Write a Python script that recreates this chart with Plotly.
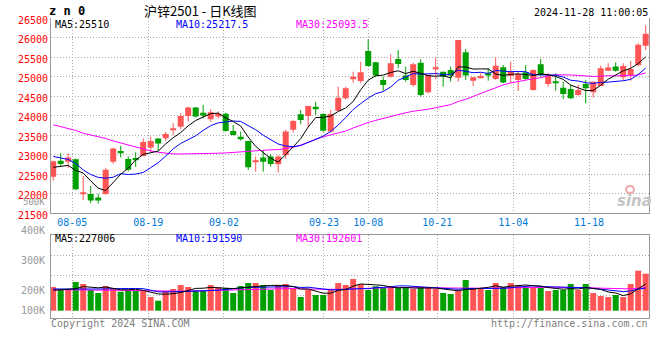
import plotly.graph_objects as go

# ---------------- data ----------------
dates = ["07-31", "08-01", "08-02",
         "08-05", "08-06", "08-07", "08-08", "08-09",
         "08-12", "08-13", "08-14", "08-15", "08-16",
         "08-19", "08-20", "08-21", "08-22", "08-23",
         "08-26", "08-27", "08-28", "08-29", "08-30",
         "09-02", "09-03", "09-04", "09-05", "09-06",
         "09-09", "09-10", "09-11", "09-12", "09-13",
         "09-18", "09-19", "09-20",
         "09-23", "09-24", "09-25", "09-26", "09-27", "09-30",
         "10-08", "10-09", "10-10", "10-11",
         "10-14", "10-15", "10-16", "10-17", "10-18",
         "10-21", "10-22", "10-23", "10-24", "10-25",
         "10-28", "10-29", "10-30", "10-31", "11-01",
         "11-04", "11-05", "11-06", "11-07", "11-08",
         "11-11", "11-12", "11-13", "11-14", "11-15",
         "11-18", "11-19", "11-20", "11-21", "11-22",
         "11-25", "11-26", "11-27", "11-28"]

opens = [22440, 22850, 22825, 22890, 22010, 22000, 21905, 22000, 22820, 23100,
         22895, 22920, 22970, 23185, 23420, 23425, 23640, 23720, 23995, 24210,
         24075, 23910, 23980, 24055, 23610, 23465, 23355, 22820, 22930, 22955,
         22760, 22995, 23640, 24040, 23995, 24235, 24045, 23595, 24130, 24450,
         24960, 24890, 25660, 25370, 24920, 25000, 25455, 25030, 24790, 25360,
         24605, 25200, 25130, 25175, 24975, 25625, 24900, 24975, 25090, 24945,
         25245, 25020, 24920, 25115, 24660, 25320, 24815, 24875, 24720, 24685,
         24535, 24815, 24605, 24765, 25155, 25260, 24985, 25030, 25300, 25795]
highs = [22850, 23040, 23040, 22905, 22460, 22205, 22000, 22665, 23180, 23230,
         22960, 23065, 23425, 23465, 23425, 23585, 23810, 24065, 24235, 24225,
         24280, 24165, 24105, 24080, 23765, 23595, 23360, 22955, 23125, 23015,
         22995, 23640, 23895, 24150, 24250, 24360, 24065, 24150, 24745, 24745,
         25130, 25385, 25960, 25380, 25000, 25575, 25685, 25260, 25360, 25445,
         25045, 25500, 25130, 25260, 25940, 25710, 24985, 25090, 25215, 25500,
         25300, 25385, 25130, 25300, 25190, 25455, 25090, 25090, 24875, 24790,
         24790, 24920, 24875, 25285, 25345, 25370, 25345, 25405, 25860, 26320]
lows = [22340, 22700, 22665, 22100, 21845, 21760, 21755, 21975, 22765, 22935,
        22575, 22690, 22960, 23080, 23100, 23355, 23510, 23655, 23850, 23955,
        23935, 23850, 23935, 23595, 23495, 23365, 22615, 22570, 22570, 22700,
        22545, 22900, 23570, 23785, 23720, 24020, 23595, 23570, 24105, 24425,
        24850, 24835, 25260, 25000, 24645, 24975, 25215, 24875, 24745, 24490,
        24575, 24935, 24745, 24875, 24875, 24920, 24765, 24960, 24900, 24920,
        24835, 24835, 24635, 24920, 24645, 25000, 24745, 24645, 24430, 24430,
        24515, 24320, 24465, 24765, 25155, 25130, 24920, 24900, 25260, 25685]
closes = [22835, 22765, 22930, 22120, 22025, 21830, 21830, 22615, 23165, 23065,
          22615, 22885, 23330, 23355, 23290, 23535, 23680, 23995, 24210, 23980,
          24005, 24090, 24055, 23610, 23510, 23425, 22685, 22850, 22825, 22765,
          22955, 23595, 23870, 23895, 24250, 24165, 23620, 24045, 24465, 24705,
          25000, 25115, 25275, 25030, 24790, 25345, 25325, 24920, 25320, 24535,
          25045, 25245, 25000, 25030, 25940, 25030, 24985, 25020, 25030, 25285,
          24850, 25130, 25070, 24945, 25175, 25045, 25030, 24850, 24560, 24450,
          24660, 24705, 24875, 25215, 25235, 25155, 25275, 25200, 25820, 26100]
volumes = [198500, 183500, 183500, 223500, 213500, 183500, 168500, 203500, 193500, 175000,
           183500, 178500, 178500, 148500, 130000, 178500, 188500, 208500, 198500, 183500,
           183500, 208500, 198500, 193500, 168500, 203500, 218500, 218500, 208500, 183500,
           208500, 213500, 188500, 148500, 183500, 158500, 158500, 188500, 218500, 208500,
           238500, 213500, 183500, 202000, 193500, 198500, 193500, 193500, 188500, 198500,
           198500, 188500, 168500, 163500, 178500, 233500, 193500, 193500, 183500, 218500,
           198500, 218500, 208500, 198500, 198500, 193500, 178500, 183500, 183500, 213500,
           183500, 213500, 168500, 153500, 148500, 158500, 148500, 213500, 280000, 265000]

# moving-average values at the left edge (they depend on days before the window)
ma5_head = [22680, 22705, 22730, 22600]
ma10_head = [22959, 22921, 22882, 22780, 22614, 22498, 22422, 22401, 22427]
ma30_head = [23771, 23727, 23676, 23625, 23553, 23510, 23458, 23420, 23356, 23305,
             23241, 23190, 23138, 23100, 23067, 23036, 23023, 23023, 23023, 23023,
             23028, 23036, 23041, 23049, 23062, 23074, 23100, 23113, 23131]
vma5_head = [182000, 184000, 186000, 190000]
vma10_head = [188500, 188000, 188000, 189000, 190000, 189500, 188500, 189000, 190000]
vma30_head = [185000, 185000, 184500, 184500, 184000, 184000, 183500, 183000, 182500, 182000,
              181500, 181000, 180000, 178500, 177500, 177000, 177000, 177500, 178500, 179500,
              180500, 182000, 183000, 184500, 185500, 186500, 187500, 188500, 189000]

ma_price_text = ["25510", "25217.5", "25093.5"]
ma_vol_text = ["227006", "191590", "192601"]
price_ticks = [21500, 22000, 22500, 23000, 23500, 24000, 24500, 25000, 25500, 26000, 26500]
vol_labels = ["500K", "400K", "300K", "200K", "100K"]
tick_labels = ["08-05", "08-19", "09-02", "09-23", "10-08", "10-21", "11-04", "11-18"]
title_text = "沪锌2501 - 日K线图"
code_text = "z n 0"
stamp_text = "2024-11-28 11:00:05"

# ---------------- styling / layout constants ----------------
RED = "#ff5555"
GREEN = "#00a000"
MONO = "DejaVu Sans Mono"
W, H = 660, 360
L, R, T, B = 51, 11, 18, 42
PW, PH = W - L - R, H - T - B
VOL_FLOOR = 80000           # volume bars are drawn up from this level
grid_at = [2.55, 12.68, 22.77, 36.1, 42.0, 51.2, 61.35, 71.45]


def rolling(vals, n, head):
    out = list(head)
    for i in range(len(head), len(vals)):
        out.append(sum(vals[i - n + 1:i + 1]) / n)
    return out


def pxx(x):
    return (x - L) / PW


def pxy(y):
    return (H - B - y) / PH


n = len(dates)
xs = list(range(n))
up = [c >= o for o, c in zip(opens, closes)]
colors = [RED if u else GREEN for u in up]

min_h = 30
body_h, body_b = [], []
for o, c in zip(opens, closes):
    d = abs(c - o)
    hgt = max(d, min_h)
    body_h.append(hgt)
    body_b.append(min(o, c) - (hgt - d) / 2)

fig = go.Figure()

# wicks
for flag, col in ((True, RED), (False, GREEN)):
    wx, wy = [], []
    for i in xs:
        if up[i] == flag:
            wx += [i, i, None]
            wy += [lows[i], highs[i], None]
    fig.add_trace(go.Scatter(x=wx, y=wy, mode="lines", line=dict(color=col, width=1),
                             hoverinfo="skip", xaxis="x", yaxis="y"))

# bodies
fig.add_trace(go.Bar(x=xs, y=body_h, base=body_b, width=0.8,
                     marker=dict(color=colors, line=dict(width=0)),
                     xaxis="x", yaxis="y"))

# price moving averages
for vals, col in ((rolling(closes, 30, ma30_head), "#ff00ff"),
                  (rolling(closes, 10, ma10_head), "#0000ff"),
                  (rolling(closes, 5, ma5_head), "#000000")):
    fig.add_trace(go.Scatter(x=xs, y=vals, mode="lines", line=dict(color=col, width=1),
                             xaxis="x", yaxis="y"))

# volume bars
fig.add_trace(go.Bar(x=xs, y=[v - VOL_FLOOR for v in volumes], base=[VOL_FLOOR] * n,
                     width=0.8, marker=dict(color=colors, line=dict(width=0)),
                     xaxis="x2", yaxis="y2"))
for vals, col in ((rolling(volumes, 30, vma30_head), "#ff00ff"),
                  (rolling(volumes, 10, vma10_head), "#0000ff"),
                  (rolling(volumes, 5, vma5_head), "#000000")):
    fig.add_trace(go.Scatter(x=xs, y=vals, mode="lines", line=dict(color=col, width=1),
                             xaxis="x2", yaxis="y2"))

GRID = "#aaaaaa"
FRAME = "#999999"
price_dom = [pxy(213.4), pxy(18.2)]
vol_dom = [pxy(318), pxy(234.7)]
x_range = [-0.293, 79.44]

fig.update_layout(
    width=W, height=H,
    margin=dict(l=L, r=R, t=T, b=B, pad=0),
    paper_bgcolor="white", plot_bgcolor="white",
    showlegend=False, barmode="overlay",
    xaxis=dict(domain=[0, 1], range=x_range, anchor="y",
               tickmode="array", tickvals=grid_at, ticktext=tick_labels,
               showgrid=True, gridcolor=GRID, griddash="1px,2px", gridwidth=1,
               ticks="", zeroline=False, showline=True, linecolor=FRAME, linewidth=1,
               tickfont=dict(family=MONO, size=10, color="#0078d7")),
    xaxis2=dict(domain=[0, 1], range=x_range, anchor="y2", matches="x",
                tickmode="array", tickvals=grid_at, showticklabels=False,
                showgrid=True, gridcolor=GRID, griddash="1px,2px", gridwidth=1,
                ticks="", zeroline=False, showline=True, mirror=True,
                linecolor=FRAME, linewidth=1),
    yaxis=dict(domain=price_dom, range=[21500, 26500], anchor="x",
               tickmode="array", tickvals=price_ticks, ticktext=[str(v) for v in price_ticks],
               showgrid=True, gridcolor=GRID, griddash="1px,2px", gridwidth=1,
               ticks="", zeroline=False, showline=True, mirror=True,
               linecolor=FRAME, linewidth=1, ticklabelshift=2,
               tickfont=dict(family=MONO, size=10, color="#ff0000")),
    yaxis2=dict(domain=vol_dom, range=[43500, 460000], anchor="x2",
                tickmode="array", tickvals=[157000, 257000, 357000], showticklabels=False,
                showgrid=True, gridcolor=GRID, griddash="1px,2px", gridwidth=1,
                ticks="", zeroline=False, showline=True, mirror=True,
                linecolor=FRAME, linewidth=1),
)

ann = []


def text(s, x, y, anchor="left", color="black", size=10, family=MONO):
    ann.append(dict(text=s, x=pxx(x), y=pxy(y), xref="paper", yref="paper",
                    xanchor=anchor, yanchor="middle", showarrow=False,
                    font=dict(family=family, size=size, color=color)))


text("<b>" + code_text + "</b>", 47, 11, size=12)
text(title_text, 200, 10, anchor="center", size=13, family="Noto Sans CJK SC")
text(stamp_text, 650, 12.5, anchor="right")
ma_cols = ["black", "#0000ff", "#ff00ff"]
ma_names = ["MA5:", "MA10:", "MA30:"]
ma_x = [53, 174, 294]
for nm, v, c, x in zip(ma_names, ma_price_text, ma_cols, ma_x):
    text(nm + v, x, 24, color=c)
for nm, v, c, x in zip(ma_names, ma_vol_text, ma_cols, ma_x):
    text(nm + v, x, 238.5, color=c)
for lab, y, sz in zip(vol_labels, [202, 230.7, 260.7, 290.7, 310.7], [9, 10, 10, 10, 10]):
    text(lab, 47, y, anchor="right", color="#999999", size=sz)
text("Copyright 2024 SINA.COM", 49, 323.7, color="#808080")
text("http://finance.sina.com.cn", 650, 323.7, anchor="right", color="#808080")
text("<b><i>sina</i></b>", 634, 201, anchor="center", color="#c4c4c4", size=15,
     family="DejaVu Sans")
fig.update_layout(annotations=ann)
fig.add_shape(type="circle", xref="paper", yref="paper",
              x0=pxx(626), x1=pxx(634), y0=pxy(193), y1=pxy(186),
              line=dict(color="#f2a8a8", width=2))

fig.write_html("out.html", config={"displayModeBar": False},
               post_script="document.body.style.margin='0';document.body.style.overflow='hidden';")
